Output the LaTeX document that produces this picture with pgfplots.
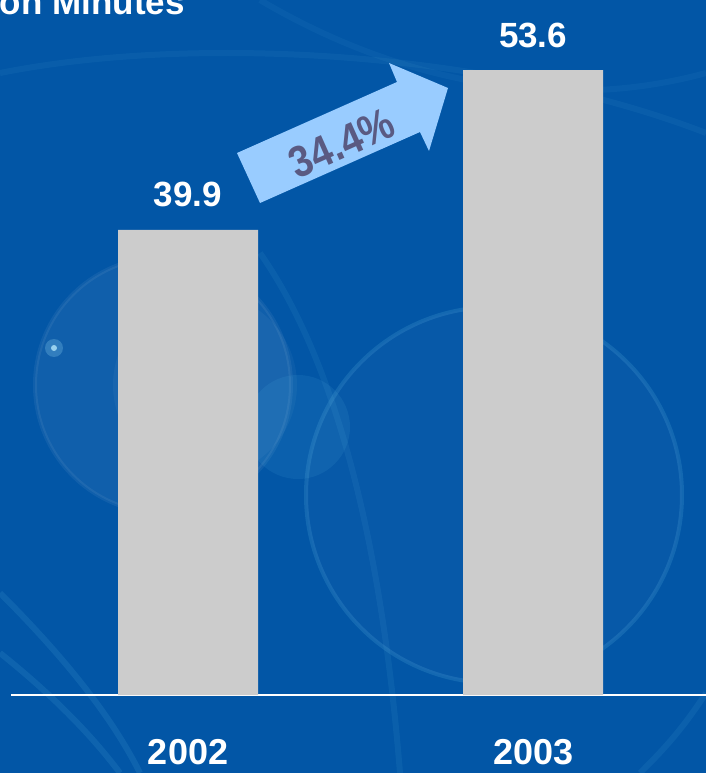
\documentclass[border=0pt]{standalone}
\usepackage{pgfplots}
\pgfplotsset{compat=1.18}
\usepackage{fontspec}
\setmainfont{Liberation Sans}
\definecolor{bgblue}{RGB}{2,86,166}
\definecolor{barg}{RGB}{204,204,204}
\definecolor{arrowblue}{RGB}{153,204,255}
\definecolor{arrowtxt}{RGB}{90,90,130}
\begin{document}
\begin{tikzpicture}[x=0.5pt,y=0.5pt]
\path[use as bounding box] (0,0) rectangle (706,773);
\begin{scope}
\clip (0,0) rectangle (706,773);
\fill[bgblue] (0,0) rectangle (706,773);
% decorative background
\fill[white,opacity=0.06] (163,388) circle (128);
\fill[white,opacity=0.04] (205,388) circle (92);
\draw[white,opacity=0.06,line width=2pt] (163,388) circle (128);
\fill[cyan!60!white,opacity=0.09] (298,346) circle (52);
\fill[white,opacity=0.025] (494,278) circle (188);
\draw[cyan!50!white,opacity=0.14,line width=2pt] (494,278) circle (188);
\fill[cyan!40!white,opacity=0.25] (54,425) circle (9);
\fill[cyan!30!white,opacity=0.8] (54,425) circle (3);
\draw[cyan!50!white,opacity=0.10,line width=3pt] (0,180) .. controls (60,120) and (110,60) .. (140,0);
\draw[cyan!50!white,opacity=0.10,line width=3pt] (0,120) .. controls (50,80) and (90,40) .. (120,0);
\draw[cyan!50!white,opacity=0.07,line width=3pt] (260,520) .. controls (330,420) and (380,250) .. (400,0);
\draw[cyan!50!white,opacity=0.08,line width=3pt] (706,80) .. controls (680,40) and (660,20) .. (640,0);
\draw[cyan!50!white,opacity=0.06,line width=3pt] (0,700) .. controls (200,740) and (500,720) .. (706,640);
\draw[cyan!50!white,opacity=0.05,line width=3pt] (260,773) .. controls (400,690) and (560,660) .. (706,700);
\begin{axis}[
  at={(5.5pt,39pt)}, anchor=south west,
  scale only axis, width=347.5pt, height=320.65pt,
  xmin=-0.513, xmax=1.501, ymin=0, ymax=55,
  axis x line=bottom, axis y line=none,
  x axis line style={white,line width=0.6pt,-},
  major tick length=0pt,
  xtick={0,1}, xticklabels={2002,2003},
  xticklabel style={anchor=center,yshift=-28.5pt,font=\fontsize{18}{20}\selectfont\bfseries,text=white},
  /pgf/number format/assume math mode=true,
  ybar, bar width=70pt,
  nodes near coords={\pgfmathprintnumber[fixed,precision=1]{\pgfplotspointmeta}},
  every node near coord/.append style={anchor=center,yshift=17.5pt,font=\fontsize{17.5}{20}\selectfont\bfseries,text=white},
  clip=false,
]
\addplot[fill=barg,draw=none] coordinates {(0,39.9) (1,53.6)};
\end{axis}
% growth arrow
\fill[arrowblue] (260,570) -- (237,620) -- (397,691) -- (389,710) -- (448,685) -- (429,622) -- (420,641) -- cycle;
\node[rotate=24,text=arrowtxt,font=\fontsize{22}{24}\selectfont\bfseries,inner sep=0pt] at (342,630) {\scalebox{0.88}[1]{34.4\%}};
% title (cut off at left)
\node[anchor=base east,inner sep=0pt,text=white,font=\fontsize{17.5}{20}\selectfont\bfseries] at (185,758) {Billion Minutes};
\end{scope}
\end{tikzpicture}
\end{document}
